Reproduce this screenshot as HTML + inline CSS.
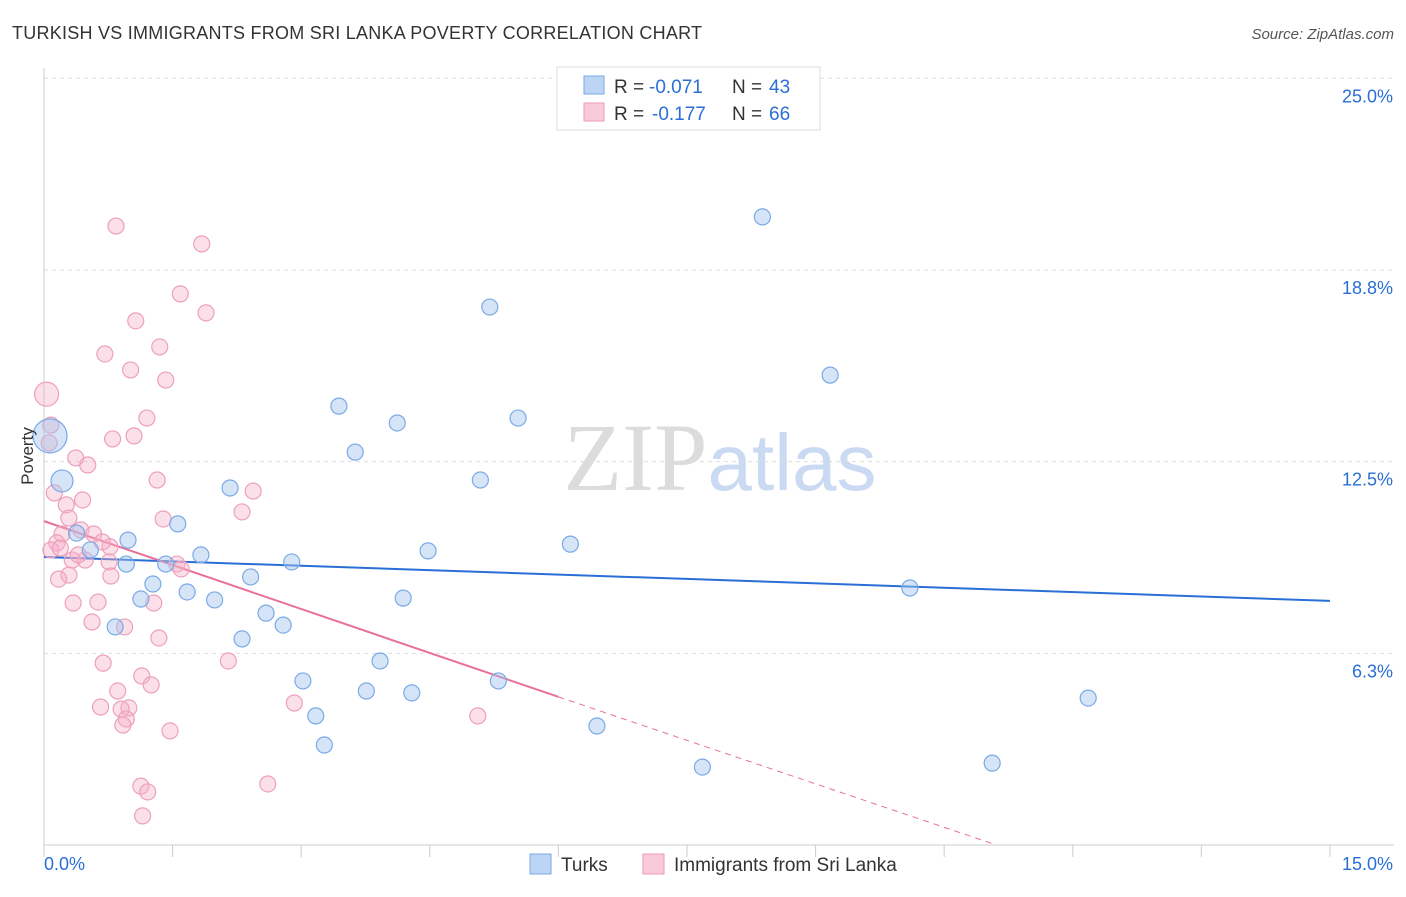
<!DOCTYPE html>
<html><head><meta charset="utf-8"><style>
body{margin:0;background:#fff;font-family:"Liberation Sans",sans-serif;}
svg text{font-family:"Liberation Sans",sans-serif;}
</style></head><body>
<svg id="chart" width="1406" height="892" xmlns="http://www.w3.org/2000/svg">
<text x="12" y="39" font-size="18" fill="#333" textLength="690">TURKISH VS IMMIGRANTS FROM SRI LANKA POVERTY CORRELATION CHART</text>
<text x="1394" y="39" font-size="15" fill="#555" text-anchor="end" font-style="italic">Source: ZipAtlas.com</text>
<text x="720" y="490" font-size="96" text-anchor="middle"><tspan fill="#dcdcdc" font-family="Liberation Serif">ZIP</tspan><tspan fill="#c9daf2" font-size="80">atlas</tspan></text>
<g id="grid"></g>
<g id="axes"></g>
<g id="lines"></g>
<g id="points"></g>
<text transform="translate(33,456) rotate(-90)" font-size="17" fill="#333" text-anchor="middle">Poverty</text>
<g>
<rect x="557" y="67" width="263" height="63" fill="#fff" stroke="#ddd"/>
<rect x="584" y="76" width="20" height="18" fill="#bcd5f5" stroke="#7aaae6"/>
<rect x="584" y="103" width="20" height="18" fill="#f9cbd9" stroke="#ee9ab8"/>
<text x="614" y="93" font-size="19" fill="#333">R =</text>
<text x="649" y="93" font-size="19" fill="#2a6fd6">-0.071</text>
<text x="732" y="93" font-size="19" fill="#333">N =</text>
<text x="769" y="93" font-size="19" fill="#2a6fd6">43</text>
<text x="614" y="120" font-size="19" fill="#333">R =</text>
<text x="652" y="120" font-size="19" fill="#2a6fd6">-0.177</text>
<text x="732" y="120" font-size="19" fill="#333">N =</text>
<text x="769" y="120" font-size="19" fill="#2a6fd6">66</text>
</g>
<g>
<rect x="530" y="854" width="21" height="20" fill="#bcd5f5" stroke="#7aaae6"/>
<text x="561" y="871" font-size="19" fill="#333">Turks</text>
<rect x="643" y="854" width="21" height="20" fill="#f9cbd9" stroke="#ee9ab8"/>
<text x="674" y="871" font-size="19" fill="#333">Immigrants from Sri Lanka</text>
</g>
</svg>
<script>
const yTicks=[6.25,12.5,18.75,25];
const yTickLabels=["6.3%","12.5%","18.8%","25.0%"];
const xTickLabels=["0.0%","15.0%"];
const turksX=[8.38,5.20,9.17,3.44,4.12,5.53,3.63,5.09,2.17,0.21,1.56,0.38,0.98,0.54,1.83,4.48,6.14,2.89,0.96,1.42,2.41,1.27,1.67,1.13,1.99,4.19,10.10,2.59,2.79,0.83,2.31,3.92,3.02,5.30,3.76,4.29,12.18,3.17,6.45,3.27,7.68,11.06,0.07];
const turksY=[20.48,17.54,15.32,14.31,13.76,13.92,12.81,11.90,11.64,11.87,10.47,10.17,9.94,9.62,9.46,9.59,9.81,9.23,9.16,9.16,8.74,8.51,8.25,8.02,7.99,8.05,8.38,7.56,7.17,7.11,6.72,6.00,5.35,5.35,5.02,4.96,4.79,4.21,3.88,3.26,2.54,2.67,13.34];
const turksR=[8,8,8,8,8,8,8,8,8,11,8,8,8,8,8,8,8,8,8,8,8,8,8,8,8,8,8,8,8,8,8,8,8,8,8,8,8,8,8,8,8,8,17];
const lankaX=[0.84,1.84,1.59,1.89,1.07,0.71,1.35,1.01,1.42,0.03,1.20,0.08,0.80,1.05,0.06,0.37,0.51,1.32,2.44,0.12,0.45,0.26,1.39,2.31,0.29,0.43,0.21,0.58,0.15,0.77,0.68,0.08,0.19,0.33,0.48,0.40,1.55,0.76,1.60,0.29,0.78,0.17,0.34,0.63,1.28,0.56,0.94,1.34,0.69,2.15,1.14,1.25,0.86,2.92,0.66,0.99,0.90,0.96,0.92,1.47,5.06,1.13,1.21,2.61,1.15];
const lankaY=[20.18,19.60,17.97,17.35,17.09,16.01,16.24,15.49,15.16,14.70,13.92,13.69,13.24,13.34,13.11,12.62,12.39,11.90,11.54,11.48,11.25,11.09,10.63,10.86,10.66,10.27,10.14,10.14,9.85,9.72,9.88,9.62,9.68,9.29,9.29,9.46,9.16,9.23,9.00,8.80,8.77,8.67,7.89,7.92,7.89,7.27,7.11,6.75,5.93,6.00,5.51,5.22,5.02,4.63,4.50,4.47,4.43,4.11,3.91,3.72,4.21,1.92,1.73,1.99,0.95];
const turksTrend=[9.39,7.96];
const lankaTrend=[10.56,-0.955];
const NS="http://www.w3.org/2000/svg";
function X(v){return 44+v*85.73;}
function Y(v){return 845-v*30.67;}
function mk(tag,attrs,parent){const e=document.createElementNS(NS,tag);for(const k in attrs)e.setAttribute(k,attrs[k]);parent.appendChild(e);return e;}
const grid=document.getElementById('grid'),axes=document.getElementById('axes'),lines=document.getElementById('lines'),pts=document.getElementById('points');
yTicks.forEach((t,i)=>{
 const l=mk('line',{x1:44,x2:1394,y1:Y(t),y2:Y(t),stroke:'#ddd','stroke-dasharray':'4,4'},grid);
 
 
 const tx=mk('text',{x:1393,y:Y(t)+24,'font-size':18,fill:'#2a6fd6','text-anchor':'end'},axes);
 tx.textContent=yTickLabels[i];
 
 
});
mk('line',{x1:44,x2:44,y1:68,y2:845,stroke:'#ccc'},axes);
mk('line',{x1:44,x2:1394,y1:845,y2:845,stroke:'#ccc'},axes);
for(let i=0;i<=10;i++){const t=mk('line',{x1:X(i*1.5),x2:X(i*1.5),y1:845,y2:857,stroke:'#ccc'},axes);
 
 }
const xl0=mk('text',{x:44,y:870,'font-size':18,fill:'#2a6fd6'},axes);xl0.textContent=xTickLabels[0];


const xl1=mk('text',{x:1393,y:870,'font-size':18,fill:'#2a6fd6','text-anchor':'end'},axes);xl1.textContent=xTickLabels[1];


lankaX.forEach((x,i)=>{const c=mk('circle',{cx:X(x),cy:Y(lankaY[i]),r:i==9?12:8,fill:'rgba(244,176,200,0.4)',stroke:'#eea0bc','stroke-width':1.2},pts);
 
 });
turksX.forEach((x,i)=>{const c=mk('circle',{cx:X(x),cy:Y(turksY[i]),r:turksR[i],fill:'rgba(164,196,238,0.45)',stroke:'#7aaae6','stroke-width':1.2},pts);
 
 });
const bl=mk('line',{x1:X(0),y1:Y(turksTrend[0]),x2:X(15),y2:Y(turksTrend[1]),stroke:'#2a6fd6','stroke-width':2},lines);


const pl=mk('line',{x1:X(0),y1:Y(lankaTrend[0]),x2:X(6),y2:Y(lankaTrend[0]+6*lankaTrend[1]),stroke:'#e8709a','stroke-width':2},lines);


const xe=-lankaTrend[0]/lankaTrend[1];
const pd=mk('line',{x1:X(6),y1:Y(lankaTrend[0]+6*lankaTrend[1]),x2:X(xe),y2:Y(0.05),stroke:'#e8709a','stroke-width':1,'stroke-dasharray':'6,5'},lines);


</script>
</body></html>
